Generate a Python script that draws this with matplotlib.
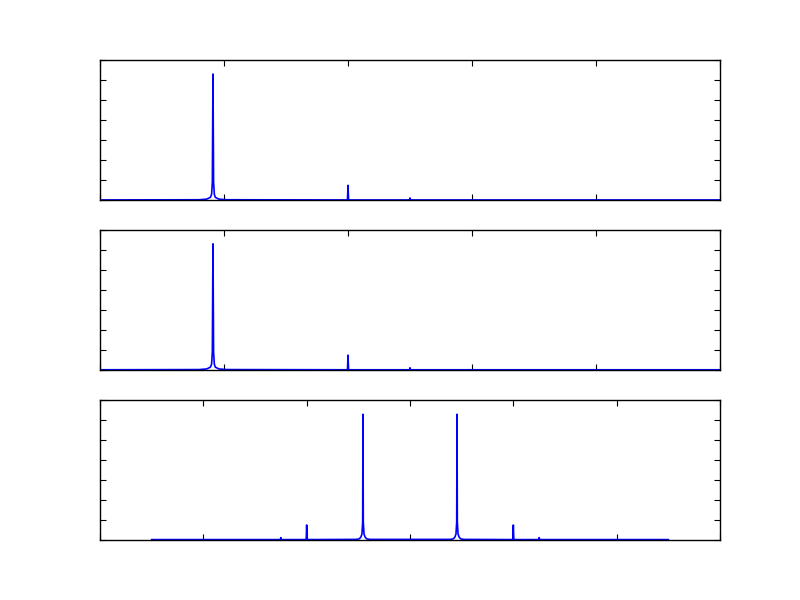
import matplotlib
matplotlib.use("Agg")
import matplotlib.pyplot as plt

# one-sided spectrum (top and middle panels)
freq_pos = [0.0, 0.80, 0.86, 0.89, 0.90, 0.906, 0.911, 0.916, 0.922, 0.93, 0.96, 1.02,
            1.99, 1.996, 2.0, 2.004, 2.01,
            2.49, 2.497, 2.5, 2.503, 2.51, 5.0]
amp_pos = [0.02, 0.03, 0.06, 0.15, 0.30, 0.9, 6.3, 0.9, 0.30, 0.15, 0.06, 0.03,
           0.02, 0.05, 0.75, 0.05, 0.02,
           0.02, 0.03, 0.12, 0.03, 0.02, 0.02]

# two-sided (shifted) spectrum, bottom panel
freq_sh = [-2.5, -1.26, -1.253, -1.25, -1.247, -1.24,
           -1.01, -1.004, -1.0, -0.996, -0.99,
           -0.52, -0.49, -0.475, -0.465, -0.458, -0.455, -0.452, -0.445, -0.435, -0.42, -0.39,
           0.39, 0.42, 0.435, 0.445, 0.452, 0.455, 0.458, 0.465, 0.475, 0.49, 0.52,
           0.99, 0.996, 1.0, 1.004, 1.01,
           1.24, 1.247, 1.25, 1.253, 1.26, 2.5]
amp_sh = [0.02, 0.02, 0.03, 0.12, 0.03, 0.02,
          0.02, 0.05, 0.75, 0.05, 0.02,
          0.03, 0.06, 0.15, 0.30, 0.9, 6.27, 0.9, 0.30, 0.15, 0.06, 0.03,
          0.03, 0.06, 0.15, 0.30, 0.9, 6.27, 0.9, 0.30, 0.15, 0.06, 0.03,
          0.02, 0.05, 0.75, 0.05, 0.02,
          0.02, 0.03, 0.12, 0.03, 0.02, 0.02]

plt.rcParams['xtick.direction'] = 'in'
plt.rcParams['ytick.direction'] = 'in'
plt.rcParams['xtick.top'] = True
plt.rcParams['ytick.right'] = True
plt.rcParams['xtick.major.size'] = 4
plt.rcParams['ytick.major.size'] = 4
plt.rcParams['axes.linewidth'] = 1.0

fig, axes = plt.subplots(3, 1, figsize=(8, 6), dpi=100)
fig.subplots_adjust(left=0.125, right=0.9, top=0.9, bottom=0.1, hspace=0.21)

for ax in axes[:2]:
    ax.plot(freq_pos, amp_pos, color='b', linewidth=1.2)
    ax.set_xlim(0, 5)
    ax.set_xticks([0, 1, 2, 3, 4, 5])

axes[2].plot(freq_sh, amp_sh, color='b', linewidth=1.2)
axes[2].set_xlim(-3, 3)
axes[2].set_xticks([-3, -2, -1, 0, 1, 2, 3])

for ax in axes:
    ax.set_ylim(0, 7)
    ax.set_yticks(range(8))
    ax.set_xticklabels([])
    ax.set_yticklabels([])

plt.savefig("out.png", dpi=100)
